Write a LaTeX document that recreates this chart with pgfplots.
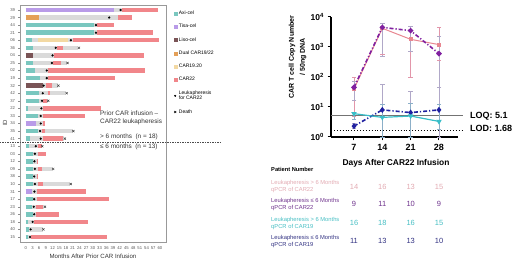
\documentclass[border=0pt]{standalone}
\usepackage{pgfplots}
\pgfplotsset{compat=1.18}
\usepackage{pgfplotstable}
\usepackage{fontspec}
\setmainfont{Liberation Sans}
\definecolor{axicel}{RGB}{122,199,191}
\definecolor{tisacel}{RGB}{185,155,232}
\definecolor{lisocel}{RGB}{122,84,86}
\definecolor{dualc}{RGB}{228,160,88}
\definecolor{carnt}{RGB}{243,217,163}
\definecolor{cartt}{RGB}{241,134,138}
\definecolor{graybar}{RGB}{218,218,218}
\definecolor{pinkl}{RGB}{232,135,145}
\definecolor{purpl}{RGB}{128,32,160}
\definecolor{tealc}{RGB}{56,190,200}
\definecolor{navyc}{RGB}{32,32,160}
\definecolor{errg}{RGB}{176,168,200}
\definecolor{pinke}{RGB}{226,150,170}
\definecolor{tabpink}{RGB}{226,170,178}
\definecolor{tabpurp}{RGB}{110,50,140}
\definecolor{tabteal}{RGB}{70,190,195}
\definecolor{tabnavy}{RGB}{50,50,130}

% ---------- swimmer plot data (x = months, y = row) ----------
\pgfplotstableread[row sep=\\]{x y\\
0 1\\43 1\\nan nan\\ 0 2\\41.3 2\\nan nan\\ 0 3\\32 3\\nan nan\\ 0 4\\32 4\\nan nan\\
0 5\\21 5\\nan nan\\ 0 6\\23.5 6\\nan nan\\ 0 7\\12.8 7\\nan nan\\ 0 8\\18.4 8\\nan nan\\
0 9\\10.1 9\\nan nan\\ 0 10\\10.1 10\\nan nan\\ 0 11\\14.3 11\\nan nan\\ 0 12\\18 12\\nan nan\\
0 13\\9.8 13\\nan nan\\ 0 14\\7.9 14\\nan nan\\ 0 15\\7.6 15\\nan nan\\ 0 16\\7.6 16\\nan nan\\
0 17\\21 17\\nan nan\\ 0 18\\17.2 18\\nan nan\\ 0 19\\7.1 19\\nan nan\\ 0 20\\5.4 20\\nan nan\\
0 21\\5 21\\nan nan\\ 0 22\\12 22\\nan nan\\ 0 23\\5 23\\nan nan\\ 0 24\\19.8 24\\nan nan\\
0 25\\4.9 25\\nan nan\\ 0 26\\4.9 26\\nan nan\\ 0 27\\8.3 27\\nan nan\\ 0 28\\4.6 28\\nan nan\\
0 29\\3.8 29\\nan nan\\ 0 30\\7.6 30\\nan nan\\ 0 31\\2.2 31\\
}\graytab
\pgfplotstableread[row sep=\\]{x y\\
43 1\\59.2 1\\nan nan\\ 41.3 2\\47.3 2\\nan nan\\ 32 3\\39.6 3\\nan nan\\ 32 4\\57 4\\nan nan\\
21 5\\59.6 5\\nan nan\\ 14.1 6\\16.8 6\\nan nan\\ 12.8 7\\52.8 7\\nan nan\\ 12.3 8\\15.6 8\\nan nan\\
10.1 9\\53.3 9\\nan nan\\ 10.1 10\\39.9 10\\nan nan\\ 9 11\\11.6 11\\nan nan\\ 9.8 12\\10.8 12\\nan nan\\
7.9 13\\9.4 13\\nan nan\\ 7.9 14\\33.6 14\\nan nan\\ 7.6 15\\26.5 15\\nan nan\\ 7.6 16\\8.6 16\\nan nan\\
7.4 17\\8.6 17\\nan nan\\ 7.6 18\\16.8 18\\nan nan\\ 5.6 19\\7.1 19\\nan nan\\ 5.4 20\\9.1 20\\nan nan\\
5 21\\5.6 21\\nan nan\\ 5.4 22\\7.1 22\\nan nan\\ 5 23\\5.6 23\\nan nan\\ 5.4 24\\7.9 24\\nan nan\\
4.9 25\\26.9 25\\nan nan\\ 4.9 26\\37.2 26\\nan nan\\ 4.6 27\\7.9 27\\nan nan\\ 4.6 28\\15 28\\nan nan\\
3.8 29\\27.9 29\\nan nan\\ 2.2 31\\36.2 31\\
}\cartab
\pgfplotstableread[row sep=\\]{x y\\
0 3\\30.6 3\\nan nan\\ 0 4\\30.6 4\\nan nan\\ 0 5\\3 5\\nan nan\\ 0 6\\3.4 6\\nan nan\\
0 8\\3.4 8\\nan nan\\ 0 9\\4.1 9\\nan nan\\ 0 10\\6.4 10\\nan nan\\ 0 12\\6.1 12\\nan nan\\
0 13\\6.1 13\\nan nan\\ 0 14\\1.2 14\\nan nan\\ 0 15\\5.6 15\\nan nan\\ 0 17\\5.6 17\\nan nan\\
0 18\\1.9 18\\nan nan\\ 0 19\\1.5 19\\nan nan\\ 0 20\\3.4 20\\nan nan\\ 0 21\\3.4 21\\nan nan\\
0 22\\3.4 22\\nan nan\\ 0 23\\3.2 23\\nan nan\\ 0 24\\3.2 24\\nan nan\\ 0 26\\3.2 26\\nan nan\\
0 27\\3 27\\nan nan\\ 0 28\\3.2 28\\nan nan\\ 0 29\\1.2 29\\nan nan\\ 0 30\\1.6 30\\nan nan\\
0 31\\1 31\\
}\axitab
\pgfplotstableread[row sep=\\]{x y\\
0 1\\39.4 1\\nan nan\\ 0 16\\4.6 16\\nan nan\\ 0 25\\2.7 25\\
}\tisatab
\pgfplotstableread[row sep=\\]{x y\\
0 7\\3.4 7\\nan nan\\ 0 11\\7.6 11\\
}\lisotab
\pgfplotstableread[row sep=\\]{x y\\ 0 2\\6.1 2\\}\dualtab
\pgfplotstableread[row sep=\\]{x y\\ 5.6 5\\19 5\\}\cnttab
\pgfplotstableread[row sep=\\]{x y\\
42.4 1\\37.3 2\\31.4 3\\31.4 4\\20.2 5\\13.4 6\\12 7\\11.7 8\\9.4 9\\9.4 10\\8 11\\7.6 12\\
7.3 13\\7 14\\6.7 15\\6.7 16\\6.4 17\\6.7 18\\4.5 19\\4.1 20\\3.9 21\\4.1 22\\3.8 23\\4.1 24\\
3.9 25\\3.8 26\\3.6 27\\3.8 28\\3.1 29\\2.2 30\\1.9 31\\
}\leuktab
\pgfplotstableread[row sep=\\]{x y\\
23.8 6\\18.7 8\\14.6 11\\18.3 12\\10.1 13\\21.3 17\\17.5 18\\7.4 19\\12.3 22\\20.1 24\\8.6 27\\7.9 30\\
}\deathtab

% ---------- qPCR data (means) ----------
\pgfplotstableread[row sep=\\]{d v\\ 7 40\\ 14 4200\\ 21 1800\\ 28 1200\\}\pinktab
\pgfplotstableread[row sep=\\]{d v\\ 7 45\\ 14 4500\\ 21 3500\\ 28 600\\}\purptab
\pgfplotstableread[row sep=\\]{d v\\ 7 6\\ 14 4.5\\ 21 5\\ 28 3.3\\}\tealtab
\pgfplotstableread[row sep=\\]{d v\\ 7 2.3\\ 14 8\\ 21 6.5\\ 28 8\\}\navytab
% ---------- error ranges (low / high per day) ----------
\pgfplotstableread[row sep=\\]{x y\\ 7 5\\7 100\\nan nan\\ 14 550\\14 6200\\nan nan\\ 21 100\\21 5000\\nan nan\\ 28 350\\28 4500\\}\pinkerr
\pgfplotstableread[row sep=\\]{x y\\ 7 17\\7 70\\nan nan\\ 14 500\\14 6000\\nan nan\\ 21 700\\21 5000\\nan nan\\ 28 45\\28 2300\\}\purperr
\pgfplotstableread[row sep=\\]{x y\\ 7 4\\7 17\\nan nan\\ 14 1\\14 12.5\\nan nan\\ 21 1\\21 13\\nan nan\\ 28 1.8\\28 12\\}\tealerr
\pgfplotstableread[row sep=\\]{x y\\ 7 2\\7 2.8\\nan nan\\ 14 1\\14 55\\nan nan\\ 21 1\\21 33.5\\nan nan\\ 28 1\\28 45\\}\navyerr
\pgfplotstableread[row sep=\\]{x y\\ 1.32 5.1\\ 33.9 5.1\\}\loqtab
\pgfplotstableread[row sep=\\]{x y\\ 1.32 1.68\\ 33.9 1.68\\}\lodtab

\begin{document}
\begin{tikzpicture}[x=1pt,y=1pt]
\useasboundingbox (0,0) rectangle (520,261);

% ================= LEFT: swimmer plot =================
\begin{axis}[at={(20pt,19pt)}, anchor=south west, scale only axis,
  width=146pt, height=237pt,
  xmin=-2.55, xmax=62.7, ymin=0.34, ymax=31.66, y dir=reverse,
  unbounded coords=jump, clip=false,
  axis line style={draw=black!40, line width=0.5pt},
  xtick={0,3,...,60}, ytick={1,...,31},
  yticklabels={39,29,44,21,06,36,04,25,02,19,32,42,37,22,33,34,35,41,13,03,12,09,38,10,31,17,23,26,18,40,15},
  tick style={draw=black!45, line width=0.4pt}, major tick length=1.5pt, tick align=outside,
  xtick pos=bottom, ytick pos=left,
  ticklabel style={font=\fontsize{4.2}{5}\selectfont, text=black!65},
  /pgf/number format/assume math mode=true,
  seg/.style={line width=4.4pt, line cap=butt, mark=none, forget plot},
  legend style={at={(1.05,0.985)}, anchor=north west, draw=none, fill=none,
    font=\fontsize{5}{5.7}\selectfont, row sep=4.2pt, inner sep=0pt,
    cells={anchor=west, align=left}},
]
\addlegendimage{legend image code/.code={\fill[axicel] (0pt,-1.5pt) rectangle (3pt,1.5pt);}}
\addlegendentry{Axi-cel}
\addlegendimage{legend image code/.code={\fill[tisacel] (0pt,-1.5pt) rectangle (3pt,1.5pt);}}
\addlegendentry{Tisa-cel}
\addlegendimage{legend image code/.code={\fill[lisocel] (0pt,-1.5pt) rectangle (3pt,1.5pt);}}
\addlegendentry{Liso-cel}
\addlegendimage{legend image code/.code={\fill[dualc] (0pt,-1.5pt) rectangle (3pt,1.5pt);}}
\addlegendentry{Dual CAR19/22}
\addlegendimage{legend image code/.code={\fill[carnt] (0pt,-1.5pt) rectangle (3pt,1.5pt);}}
\addlegendentry{CAR19.20}
\addlegendimage{legend image code/.code={\fill[cartt] (0pt,-1.5pt) rectangle (3pt,1.5pt);}}
\addlegendentry{CAR22}
\addlegendimage{legend image code/.code={\fill[black] (1.5pt,0pt) circle (0.8pt);}}
\addlegendentry{Leukapheresis\\for CAR22}
\addlegendimage{legend image code/.code={\draw[black, line width=0.6pt] (0.5pt,-1pt) -- (2.5pt,1pt) (0.5pt,1pt) -- (2.5pt,-1pt);}}
\addlegendentry{Death}

\addplot[seg, color=graybar] table {\graytab};
\addplot[seg, color=cartt] table {\cartab};
\addplot[seg, color=axicel] table {\axitab};
\addplot[seg, color=tisacel] table {\tisatab};
\addplot[seg, color=lisocel] table {\lisotab};
\addplot[seg, color=dualc] table {\dualtab};
\addplot[seg, color=carnt] table {\cnttab};
\addplot[only marks, mark=*, mark size=0.9pt, black, forget plot] table {\leuktab};
\addplot[only marks, mark=x, mark size=1.5pt, black!75, line width=0.5pt, forget plot] table {\deathtab};

\draw[black!70, dash pattern=on 1.5pt off 1pt, line width=0.5pt] (axis cs:-11.5,18.5) -- (axis cs:87.8,18.5);
\begin{scope}[every node/.style={anchor=west, inner sep=0pt, font=\fontsize{6.4}{7}\selectfont, text=black!80}]
\node at (axis cs:33.2,14.65) {Prior CAR infusion –};
\node at (axis cs:33.2,15.84) {CAR22 leukapheresis};
\node at (axis cs:33.2,17.74) {> 6 months\ \ (n = 18)};
\node at (axis cs:33.2,19.07) {≤ 6 months\ \ (n = 13)};
\end{scope}
\end{axis}
\node[rotate=90, font=\fontsize{6}{7}\selectfont, text=black!75] at (5,138) {ID};
\node[font=\fontsize{6.1}{7}\selectfont, text=black!80] at (93,5) {Months After Prior CAR Infusion};

% ================= RIGHT: qPCR =================
\begin{axis}[at={(331pt,124pt)}, anchor=south west, scale only axis,
  width=127pt, height=120pt,
  ymode=log, ymin=1, ymax=10000, xmin=1.32, xmax=32.7,
  axis lines=left, axis line style={-, line width=1.1pt},
  xtick={7,14,21,28}, ytick={1,10,100,1000,10000},
  yticklabels={10\textsuperscript{0},10\textsuperscript{1},10\textsuperscript{2},10\textsuperscript{3},10\textsuperscript{4}},
  yminorticks=false, unbounded coords=jump,
  tick align=outside, major tick length=3.5pt, tick style={line width=1pt, black},
  xticklabel style={font=\bfseries\fontsize{9}{10}\selectfont},
  yticklabel style={font=\bfseries\fontsize{8.5}{10}\selectfont},
  /pgf/number format/assume math mode=true,
  clip=false,
  ebar/.style={line width=0.9pt, mark=none},
  ecap/.style={only marks, mark=-, mark size=2.2pt, mark options={line width=0.8pt}},
]
\addplot[black!55, line width=0.8pt, mark=none] table {\loqtab};
\addplot[black, line width=0.9pt, dotted, mark=none] table {\lodtab};
% error bars
\addplot[ebar, errg] table {\navyerr};
\addplot[ecap, errg] table {\navyerr};
\addplot[ebar, errg!70!tealc] table {\tealerr};
\addplot[ecap, errg!70!tealc] table {\tealerr};
\addplot[ebar, pinke] table {\pinkerr};
\addplot[ecap, pinke] table {\pinkerr};
\addplot[ebar, errg] table {\purperr};
\addplot[ecap, errg] table {\purperr};
% means
\addplot[navyc, line width=1.6pt, dash pattern=on 4pt off 2pt on 1.2pt off 2pt, mark=diamond*, mark size=1.8pt,
  mark options={solid}] table[x=d, y=v] {\navytab};
\addplot[tealc, line width=1.2pt, mark=triangle*, mark size=2pt, mark options={rotate=180}]
  table[x=d, y=v] {\tealtab};
\addplot[pinkl, line width=1pt, mark=square*, mark size=1.6pt] table[x=d, y=v] {\pinktab};
\addplot[purpl, line width=1.6pt, dash pattern=on 4pt off 2pt on 1.2pt off 2pt, mark=*, mark size=1.8pt,
  mark options={solid}] table[x=d, y=v] {\purptab};
\end{axis}

\node[rotate=90, align=center, font=\bfseries\fontsize{7}{11}\selectfont] at (297.5,204) {CAR T cell Copy Number\\/ 50ng DNA};
\node[font=\bfseries\fontsize{8.4}{10}\selectfont] at (396,98) {Days After CAR22 Infusion};
\node[anchor=west, font=\bfseries\fontsize{9}{10}\selectfont, inner sep=0pt] at (470,144.3) {LOQ: 5.1};
\node[anchor=west, font=\bfseries\fontsize{9}{10}\selectfont, inner sep=0pt] at (470,132.5) {LOD: 1.68};

% ---------- patient number table ----------
\node[anchor=west, inner sep=0pt, font=\bfseries\fontsize{5.7}{7}\selectfont] at (271,92) {Patient Number};
\begin{scope}[every node/.style={anchor=west, inner sep=0pt, align=left, font=\fontsize{5.8}{7}\selectfont}]
\node[text=tabpink] at (271,74.6) {Leukapheresis > 6 Months\\qPCR of CAR22};
\node[text=tabpurp] at (271,56) {Leukapheresis ≤ 6 Months\\qPCR of CAR22};
\node[text=tabteal] at (271,37.7) {Leukapheresis > 6 Months\\qPCR of CAR19};
\node[text=tabnavy] at (271,19.2) {Leukapheresis ≤ 6 Months\\qPCR of CAR19};
\end{scope}
\begin{scope}[every node/.style={inner sep=0pt, font=\fontsize{7.5}{8}\selectfont}]
\node[text=tabpink] at (354,74.3) {14}; \node[text=tabpink] at (382.3,74.3) {16};
\node[text=tabpink] at (410.7,74.3) {13}; \node[text=tabpink] at (439,74.3) {15};
\node[text=tabpurp] at (354,56.7) {9}; \node[text=tabpurp] at (382.3,56.7) {11};
\node[text=tabpurp] at (410.7,56.7) {10}; \node[text=tabpurp] at (439,56.7) {9};
\node[text=tabteal] at (354,37.7) {16}; \node[text=tabteal] at (382.3,37.7) {18};
\node[text=tabteal] at (410.7,37.7) {16}; \node[text=tabteal] at (439,37.7) {15};
\node[text=tabnavy] at (354,20) {11}; \node[text=tabnavy] at (382.3,20) {13};
\node[text=tabnavy] at (410.7,20) {13}; \node[text=tabnavy] at (439,20) {10};
\end{scope}
\end{tikzpicture}
\end{document}
